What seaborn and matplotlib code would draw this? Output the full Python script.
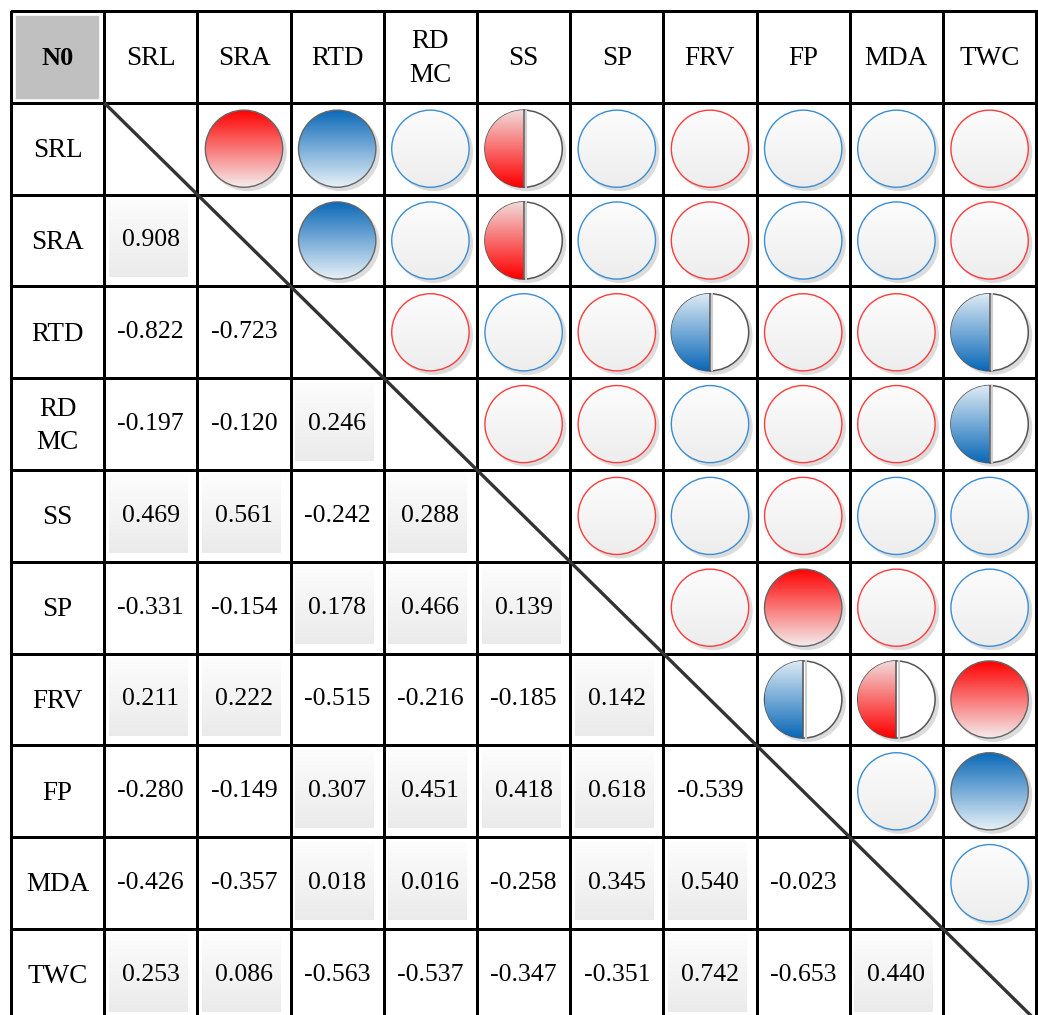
import numpy as np
import matplotlib
matplotlib.use("Agg")
import matplotlib.pyplot as plt
import seaborn as sns
from matplotlib.colors import ListedColormap
from matplotlib.patches import Ellipse, Polygon, Rectangle

# variable names (header row / first column)
labels = ["SRL", "SRA", "RTD", "RD\nMC", "SS", "SP", "FRV", "FP", "MDA", "TWC"]

# lower triangle correlations, row by row (row i has i values)
corr_rows = [
    [],
    [0.908],
    [-0.822, -0.723],
    [-0.197, -0.120, 0.246],
    [0.469, 0.561, -0.242, 0.288],
    [-0.331, -0.154, 0.178, 0.466, 0.139],
    [0.211, 0.222, -0.515, -0.216, -0.185, 0.142],
    [-0.280, -0.149, 0.307, 0.451, 0.418, 0.618, -0.539],
    [-0.426, -0.357, 0.018, 0.016, -0.258, 0.345, 0.540, -0.023],
    [0.253, 0.086, -0.563, -0.537, -0.347, -0.351, 0.742, -0.653, 0.440],
]

# circle marks in the upper triangle (same layout, mirrored):
# r/b = red/blue outline only, rh/bh = half filled, R/B = fully filled
mark_rows = [
    [],
    ["R"],
    ["B", "B"],
    ["b", "b", "r"],
    ["rh", "rh", "b", "r"],
    ["b", "b", "r", "r", "r"],
    ["r", "r", "bh", "b", "b", "r"],
    ["b", "b", "r", "r", "r", "R", "bh"],
    ["b", "b", "r", "r", "b", "r", "rh", "b"],
    ["r", "r", "bh", "bh", "b", "b", "R", "B", "b"],
]

n = len(labels)
size = n + 1

plt.rcParams["font.family"] = ["Liberation Serif", "DejaVu Serif"]

fig = plt.figure(figsize=(10.38, 10.15), dpi=100)
ax = fig.add_axes([0, 0, 1, 1])

# table grid and the numbers of the lower triangle
annot = np.full((size, size), "", dtype=object)
for i in range(n):
    for j, v in enumerate(corr_rows[i]):
        annot[i + 1, j + 1] = f"{v:.3f}"

sns.heatmap(np.zeros((size, size)), cmap=ListedColormap(["white"]), cbar=False,
            linewidths=1.9, linecolor="black", annot=annot, fmt="",
            annot_kws={"size": 18.5, "color": "black"}, ax=ax)


def grad_img(x0, y0, w, h, top, bottom, z, clip=None):
    top = np.array(top)
    bottom = np.array(bottom)
    t = np.linspace(0, 1, 64)[:, None, None]
    arr = top * (1 - t) + bottom * t
    im = ax.imshow(arr, extent=(x0, x0 + w, y0 + h, y0), origin="upper",
                   aspect="auto", zorder=z, interpolation="bilinear")
    if clip is not None:
        im.set_clip_path(clip)
    return im


# gray boxes behind positive values
for i in range(n):
    for j, v in enumerate(corr_rows[i]):
        if v > 0:
            grad_img(j + 1 + 0.05, i + 1 + 0.06, 0.84, 0.84,
                     (0.99, 0.99, 0.99), (0.92, 0.92, 0.92), 1.5)

# header
ax.add_patch(Rectangle((0.055, 0.055), 0.88, 0.89, color="#c0c0c0", zorder=2))
ax.text(0.5, 0.52, "N0", ha="center", va="center", fontsize=19,
        fontweight="bold", zorder=3)
for k, lab in enumerate(labels):
    ax.text(k + 1.5, 0.52, lab, ha="center", va="center", fontsize=19.5,
            linespacing=1.45, zorder=3)
    ax.text(0.5, k + 1.52, lab, ha="center", va="center", fontsize=19.5,
            linespacing=1.45, zorder=3)

# circles in the upper triangle
rx, ry = 0.415, 0.42
RED = (1.0, 0.0, 0.0)
BLUE = (0.04, 0.41, 0.72)
for i in range(n):
    for j, m in enumerate(mark_rows[i]):
        cx, cy = i + 1.5, j + 1.5
        pos = m[0] in "rR"
        ax.add_patch(Ellipse((cx + 0.035, cy + 0.035), 2 * rx, 2 * ry,
                             color="#dcdcdc", zorder=2))
        if m in ("r", "b"):
            edge = "#ff3b3b" if pos else "#3a8ed6"
            el = Ellipse((cx, cy), 2 * rx, 2 * ry, facecolor="none",
                         edgecolor=edge, lw=1.0, zorder=4)
            ax.add_patch(el)
            grad_img(cx - rx, cy - ry, 2 * rx, 2 * ry,
                     (0.99, 0.99, 0.99), (0.93, 0.93, 0.93), 3, clip=el)
        elif m in ("R", "B"):
            el = Ellipse((cx, cy), 2 * rx, 2 * ry, facecolor="none",
                         edgecolor="#666666", lw=1.0, zorder=4)
            ax.add_patch(el)
            if pos:
                top, bot = RED, (0.96, 0.92, 0.92)
            else:
                top, bot = BLUE, (0.90, 0.94, 0.97)
            grad_img(cx - rx, cy - ry, 2 * rx, 2 * ry, top, bot, 3, clip=el)
        else:
            el = Ellipse((cx, cy), 2 * rx, 2 * ry, facecolor="white",
                         edgecolor="#555555", lw=1.1, zorder=3)
            ax.add_patch(el)
            th = np.linspace(np.pi / 2, 3 * np.pi / 2, 80)
            half = Polygon(np.c_[cx + rx * np.cos(th), cy - ry * np.sin(th)],
                           closed=True, facecolor="none", edgecolor="none",
                           zorder=3.5)
            ax.add_patch(half)
            if pos:
                top, bot = (0.95, 0.86, 0.86), RED
            else:
                top, bot = (0.87, 0.92, 0.96), BLUE
            grad_img(cx - rx, cy - ry, rx, 2 * ry, top, bot, 3.5, clip=half)
            ax.plot([cx + 0.025, cx + 0.025], [cy - ry * 0.99, cy + ry * 0.99],
                    color="#d0d0d0", lw=1.5, zorder=3.6)
            ax.plot([cx, cx], [cy - ry, cy + ry], color="#555555", lw=1.1,
                    zorder=3.7)

# diagonal line
ax.plot([1, size], [1, size], color="#333333", lw=2.4, zorder=5,
        solid_capstyle="butt")

ax.set_xticks([])
ax.set_yticks([])
ax.set_xlabel("")
ax.set_ylabel("")
ax.set_xlim(-11 / 93.2, 1027 / 93.2)
ax.set_ylim((1015 - 11) / 91.8, -11 / 91.8)
for sp in ax.spines.values():
    sp.set_visible(False)

fig.savefig("out.png", dpi=100, facecolor="white")
